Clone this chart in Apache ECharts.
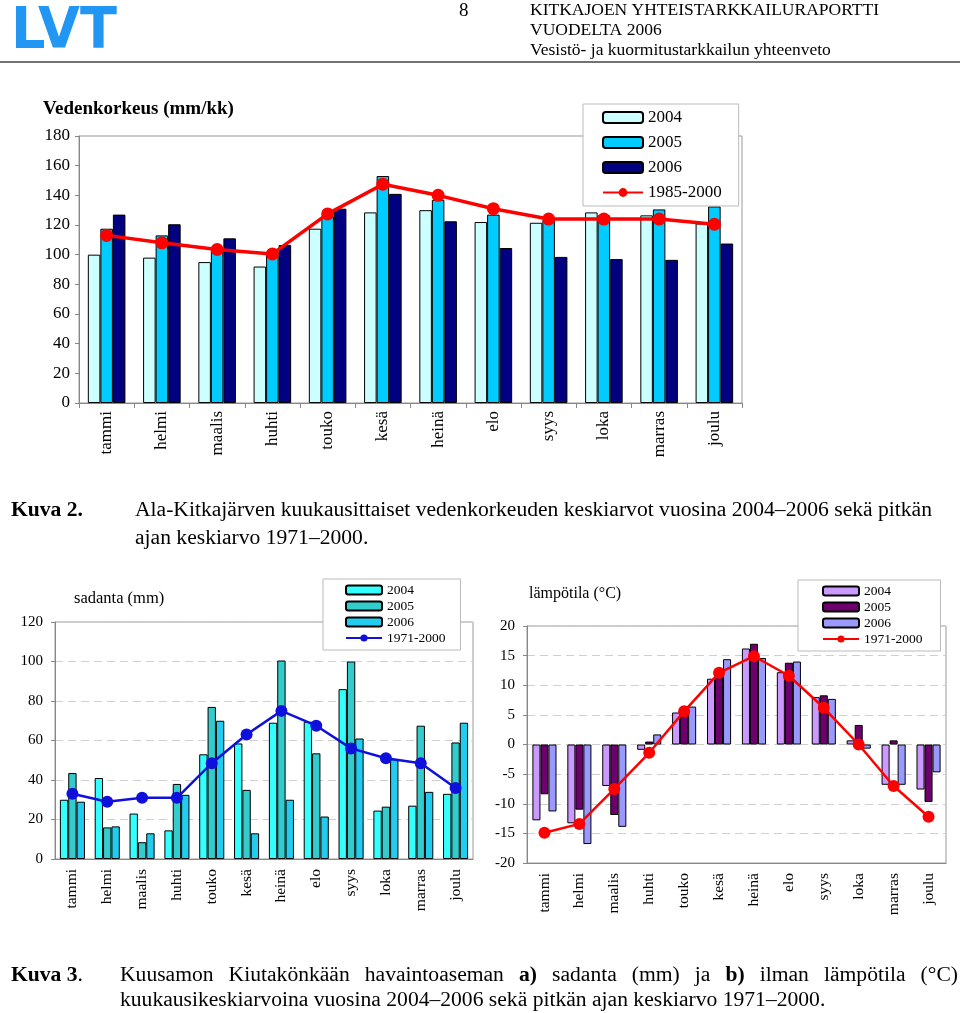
<!DOCTYPE html>
<html><head><meta charset="utf-8">
<script src="https://cdn.jsdelivr.net/npm/echarts@6/dist/echarts.min.js"></script>
<style>html,body{margin:0;padding:0;background:#fff}#c{width:960px;height:1013px}</style>
</head><body><div id="c"></div>
<script>
// ---- data ----
const months = ['tammi','helmi','maalis','huhti','touko','kesä','heinä','elo','syys','loka','marras','joulu'];

// Vedenkorkeus (mm/kk)
const wl2004 = [100, 98, 95, 92, 117.5, 128.5, 130, 122, 121.5, 128.5, 126.5, 121];
const wl2005 = [117.5, 113, 104, 102, 126, 153, 137, 127, 123, 126.5, 130.5, 132.5];
const wl2006 = [127, 120.5, 111, 106.5, 131, 141, 122.5, 104.5, 98.5, 97, 96.5, 107.5];
const wlMean = [113, 108, 103.5, 100.5, 127.5, 147.5, 140, 131, 124, 124, 124, 120.5];

// sadanta (mm)
const pr2004 = [30, 41, 23, 14.5, 53, 58.5, 69, 69.5, 86, 24.5, 27, 33];
const pr2005 = [43.5, 16, 8.5, 38, 77, 35, 100.5, 53.5, 100, 26.5, 67.5, 59];
const pr2006 = [29, 16.5, 13, 32.5, 70, 13, 30, 21.5, 61, 50.5, 34, 69];
const prMean = [33, 29, 31, 31, 48.5, 63, 75, 67.5, 56, 51, 48.5, 36];

// lämpötila (°C)
const te2004 = [-12.8, -13.3, -7, -0.9, 5.4, 11.1, 16.2, 12.2, 8, 0.7, -6.8, -7.6];
const te2005 = [-8.4, -11, -11.9, 0.5, 5.5, 12, 17, 13.8, 8.3, 3.3, 0.7, -9.7];
const te2006 = [-11.3, -16.8, -13.9, 1.7, 6.4, 14.4, 14.6, 14, 7.7, -0.7, -6.8, -4.7];
const teMean = [-14.9, -13.4, -7.5, -1.4, 5.6, 12.1, 14.9, 11.6, 6.2, 0, -7, -12.2];

const wlNames = ['2004', '2005', '2006', '1985-2000'];
const prNames = ['2004', '2005', '2006', '1971-2000'];
const teNames = ['2004', '2005', '2006', '1971-2000'];

// ---- rendering ----
const SERIF = '"Liberation Serif", "Times New Roman", serif';
const chart = echarts.init(document.getElementById('c'), null, {renderer: 'canvas'});

const mctx = document.createElement('canvas').getContext('2d');
function measure(text, font) { mctx.font = font; return mctx.measureText(text).width; }

function txt(x, y, text, font, sx) {
  return {type: 'text', x: x, y: y, z: 10, scaleX: sx || 1,
    style: {text: text, font: font, fill: '#000', verticalAlign: 'middle', align: 'left'}};
}

const capFont = '20px ' + SERIF;
const capBold = 'bold 20px ' + SERIF;
const cap2a = 'Ala-Kitkajärven kuukausittaiset vedenkorkeuden keskiarvot vuosina 2004–2006 sekä pitkän';
const capSX = 797 / measure(cap2a, capFont);

// justified caption line
const cap3words = [['Kuusamon', 0], ['Kiutakönkään', 0], ['havaintoaseman', 0], ['a)', 1], ['sadanta', 0], ['(mm)', 0],
  ['ja', 0], ['b)', 1], ['ilman', 0], ['lämpötila', 0], ['(°C)', 0]];
const jLeft = 120, jRight = 958;
let wsum = 0;
cap3words.forEach(w => { w.push(measure(w[0], w[1] ? capBold : capFont) * capSX); wsum += w[2]; });
const gap = (jRight - jLeft - wsum) / (cap3words.length - 1);
const cap3graphics = [];
let cx = jLeft;
cap3words.forEach(w => { cap3graphics.push(txt(cx, 976, w[0], w[1] ? capBold : capFont, capSX)); cx += w[2] + gap; });

const hdrFont = '17.5px ' + SERIF;
const graphics = [
  {type: 'text', x: 11, y: 5, z: 10, scaleX: 0.95, style: {text: 'LVT', font: 'bold 57px "DejaVu Sans"', fill: '#2196F3', verticalAlign: 'top'}},
  txt(459, 11, '8', '19px ' + SERIF),
  txt(530, 10, 'KITKAJOEN YHTEISTARKKAILURAPORTTI', hdrFont),
  txt(530, 30, 'VUODELTA 2006', hdrFont),
  txt(530, 50, 'Vesistö- ja kuormitustarkkailun yhteenveto', hdrFont),
  {type: 'line', z: 10, shape: {x1: 0, y1: 62, x2: 960, y2: 62}, style: {stroke: '#444', lineWidth: 1.5}},
  txt(43, 109, 'Vedenkorkeus (mm/kk)', 'bold 19px ' + SERIF),
  txt(74, 599, 'sadanta (mm)', '16.5px ' + SERIF),
  txt(529, 594, 'lämpötila (°C)', '16px ' + SERIF),
  txt(11, 511, 'Kuva 2.', capBold, capSX),
  txt(135, 511, cap2a, capFont, capSX),
  txt(135, 539, 'ajan keskiarvo 1971–2000.', capFont, capSX),
  txt(11, 976, 'Kuva 3', capBold, capSX),
  txt(11 + measure('Kuva 3', capBold) * capSX, 976, '.', capFont, capSX),
  txt(120, 1001, 'kuukausikeskiarvoina vuosina 2004–2006 sekä pitkän ajan keskiarvo 1971–2000.', capFont, capSX)
].concat(cap3graphics);

const lblBase = {fontFamily: SERIF, color: '#000'};
const gridBase = {show: true, borderColor: '#999', borderWidth: 1, outerBoundsMode: 'none', containLabel: false};

function catAxis(gi, fs, margin, tick) {
  return {gridIndex: gi, type: 'category', data: months,
    axisLine: {onZero: false, lineStyle: {color: '#888'}},
    axisTick: {show: tick, length: 5, lineStyle: {color: '#888'}},
    axisLabel: Object.assign({rotate: 90, fontSize: fs, margin: margin, interval: 0}, lblBase)};
}
function valAxis(gi, min, max, interval, fs, margin, split) {
  return {gridIndex: gi, type: 'value', min: min, max: max, interval: interval,
    axisLine: {show: true, onZero: false, lineStyle: {color: '#888'}},
    axisTick: {show: true, length: 4, lineStyle: {color: '#888'}},
    splitLine: {show: split, lineStyle: {type: [8, 5], color: '#cfcfcf'}},
    axisLabel: Object.assign({fontSize: fs, margin: margin}, lblBase)};
}
function legend(prefix, names, left, top, padding, iw, ih, gapv, fs) {
  return {orient: 'vertical', left: left, top: top, padding: padding, itemGap: gapv,
    itemWidth: iw, itemHeight: ih, backgroundColor: '#fff', borderColor: '#bbb', borderWidth: 1,
    selectedMode: false, z: 5,
    textStyle: {fontFamily: SERIF, fontSize: fs, color: '#000'},
    data: names.map(n => prefix + '|' + n), formatter: n => n.split('|')[1]};
}
function bar(prefix, name, data, color, gi, catGap) {
  return {type: 'bar', name: prefix + '|' + name, data: data, xAxisIndex: gi, yAxisIndex: gi,
    barGap: '0%', barCategoryGap: catGap,
    itemStyle: {color: color, borderColor: '#000', borderWidth: 1}};
}
function line(prefix, name, data, color, gi, lw, ss) {
  return {type: 'line', name: prefix + '|' + name, data: data, xAxisIndex: gi, yAxisIndex: gi,
    symbol: 'circle', symbolSize: ss, z: 4,
    lineStyle: {color: color, width: lw}, itemStyle: {color: color}};
}

const option = {
  backgroundColor: '#fff',
  animation: false,
  grid: [
    Object.assign({left: 79, top: 136, width: 663, height: 267}, gridBase),
    Object.assign({left: 55, top: 622, width: 418, height: 237}, gridBase),
    Object.assign({left: 527, top: 626, width: 419, height: 237}, gridBase)
  ],
  xAxis: [catAxis(0, 17, 8, true), catAxis(1, 15.5, 10, false), catAxis(2, 15.5, 10, false)],
  yAxis: [valAxis(0, 0, 180, 20, 17, 9, false), valAxis(1, 0, 120, 20, 15, 12, true), valAxis(2, -20, 20, 5, 15, 12, true)],
  legend: [
    legend('w', wlNames, 583, 104, [5, 17, 5, 19], 40, 11, 8, 17),
    legend('p', prNames, 323, 579, [4, 15, 5, 22], 36, 9, 2, 13.5),
    legend('t', teNames, 798, 580, [4, 18, 5, 24], 36, 9, 2, 13.5)
  ],
  series: [
    bar('w', wlNames[0], wl2004, '#CCFFFF', 0, '32%'),
    bar('w', wlNames[1], wl2005, '#00CCFF', 0, '32%'),
    bar('w', wlNames[2], wl2006, '#000080', 0, '32%'),
    line('w', wlNames[3], wlMean, '#FF0000', 0, 3.5, 13),
    bar('p', prNames[0], pr2004, '#33FFFF', 1, '28%'),
    bar('p', prNames[1], pr2005, '#33CCCC', 1, '28%'),
    bar('p', prNames[2], pr2006, '#22CCEE', 1, '28%'),
    line('p', prNames[3], prMean, '#1010DD', 1, 2.5, 12),
    bar('t', teNames[0], te2004, '#CC99FF', 2, '31%'),
    bar('t', teNames[1], te2005, '#6E006E', 2, '31%'),
    bar('t', teNames[2], te2006, '#9999FF', 2, '31%'),
    line('t', teNames[3], teMean, '#FF0000', 2, 2.5, 12)
  ],
  graphic: graphics
};
chart.setOption(option);
</script></body></html>
